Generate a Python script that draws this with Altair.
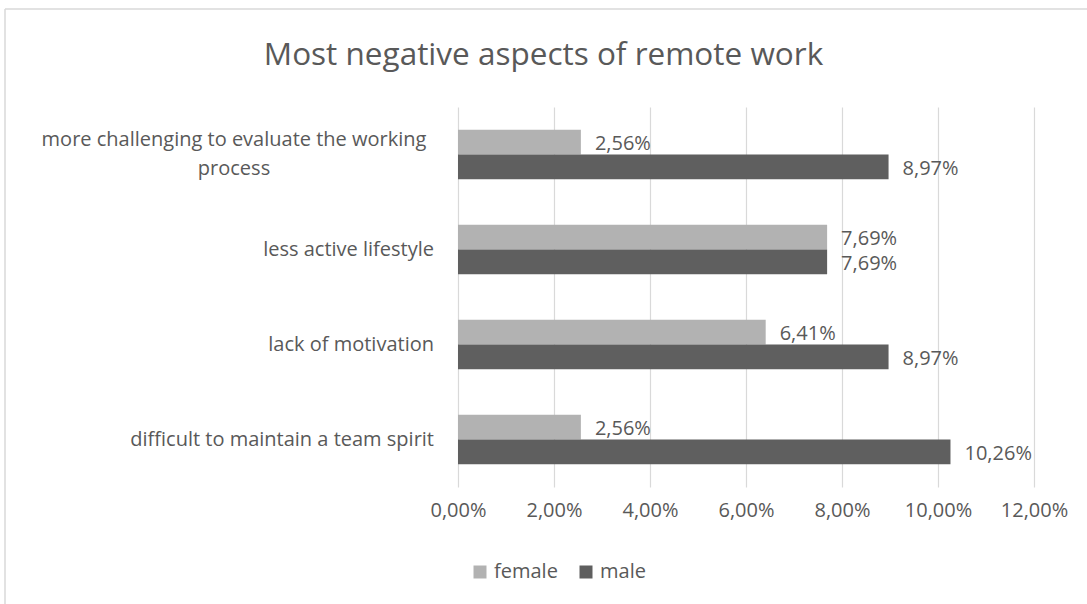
import altair as alt
import pandas as pd

# Survey shares (%) of the most negative aspects of remote work, by gender
aspects = [
    "more challenging to evaluate the working\nprocess",
    "less active lifestyle",
    "lack of motivation",
    "difficult to maintain a team spirit",
]
female = [2.56, 7.69, 6.41, 2.56]
male = [8.97, 7.69, 8.97, 10.26]
genders = ["female", "male"]
tick_values = [0, 2, 4, 6, 8, 10, 12]
title_text = "Most negative aspects of remote work"

rows = []
for a, f, m in zip(aspects, female, male):
    rows.append({"aspect": a, "gender": "female", "share": f})
    rows.append({"aspect": a, "gender": "male", "share": m})
df = pd.DataFrame(rows)

FONT = "Open Sans"
TEXT = "#595959"
GRID = "#d9d9d9"
pct_expr = "replace(format(datum.value, '.2f'), '.', ',') + '%'"

y_enc = alt.Y(
    "aspect:N",
    sort=aspects,
    scale=alt.Scale(paddingInner=0.48, paddingOuter=0.24),
    axis=None,
)

base = alt.Chart(df)

bars = base.mark_bar().encode(
    x=alt.X(
        "share:Q",
        scale=alt.Scale(domain=[0, 12], nice=False),
        axis=alt.Axis(
            values=tick_values,
            labelExpr=pct_expr,
            title=None,
            grid=True,
            gridColor=GRID,
            gridWidth=1.2,
            domain=False,
            ticks=False,
            labelFont=FONT,
            labelFontSize=20,
            labelColor=TEXT,
            labelPadding=13,
            labelFlush=False,
            labelOverlap=False,
        ),
    ),
    y=y_enc,
    yOffset=alt.YOffset("gender:N", sort=genders, scale=alt.Scale(paddingInner=0, paddingOuter=0)),
    color=alt.Color(
        "gender:N",
        sort=genders,
        scale=alt.Scale(domain=genders, range=["#b2b2b2", "#5f5f5f"]),
        legend=alt.Legend(
            title=None,
            orient="none",
            direction="horizontal",
            legendX=12,
            legendY=455,
            symbolType="square",
            symbolSize=169,
            symbolStrokeWidth=0,
            labelFont=FONT,
            labelFontSize=20,
            labelColor=TEXT,
            labelOffset=4,
            columnPadding=18,
        ),
    ),
)

values = base.transform_calculate(
    label="replace(format(datum.share, '.2f'), '.', ',') + '%'"
).mark_text(
    align="left", baseline="middle", dx=14, dy=2, font=FONT, fontSize=20, color=TEXT
).encode(
    x="share:Q",
    y=y_enc,
    yOffset=alt.YOffset("gender:N", sort=genders),
    text="label:N",
)

# Category labels: single-line ones right-aligned, wrapped one centred as a block
cat_df = pd.DataFrame({"aspect": aspects})
cat_base = alt.Chart(cat_df)
single = cat_base.transform_filter("indexof(datum.aspect, '\\n') < 0").mark_text(
    align="right", baseline="middle", font=FONT, fontSize=20, color=TEXT
).encode(x=alt.value(-24), y=y_enc, text="aspect:N")
wrapped = cat_base.transform_filter("indexof(datum.aspect, '\\n') >= 0").mark_text(
    align="center", baseline="middle", lineBreak="\n", lineHeight=29, font=FONT,
    fontSize=20, color=TEXT, dy=-15
).encode(x=alt.value(-224), y=y_enc, text="aspect:N")

# Chart title, centred over the whole chart frame
title = alt.Chart(alt.Data(values=[{"t": title_text}])).mark_text(
    align="center", baseline="alphabetic", font=FONT, fontSize=31.5, color=TEXT
).encode(x=alt.value(85.5), y=alt.value(-42), text="t:N")

# Outer chart frame (top and left edges)
frame_src = alt.Chart(alt.Data(values=[{"k": 1}]))
frame_top = frame_src.mark_rule(color=GRID, strokeWidth=1.5).encode(
    x=alt.value(-453), x2=alt.value(640), y=alt.value(-98)
)
frame_left = frame_src.mark_rule(color=GRID, strokeWidth=1.5).encode(
    x=alt.value(-453), y=alt.value(-98), y2=alt.value(500)
)

chart = alt.layer(frame_top, frame_left, title, bars, values, single, wrapped).properties(
    width=576,
    height=380,
    autosize=alt.AutoSizeParams(type="none"),
    padding={"left": 458, "top": 107, "right": 53, "bottom": 117},
).configure_view(strokeWidth=0)

chart.save("out.html", embed_options={"renderer": "svg", "actions": False})
